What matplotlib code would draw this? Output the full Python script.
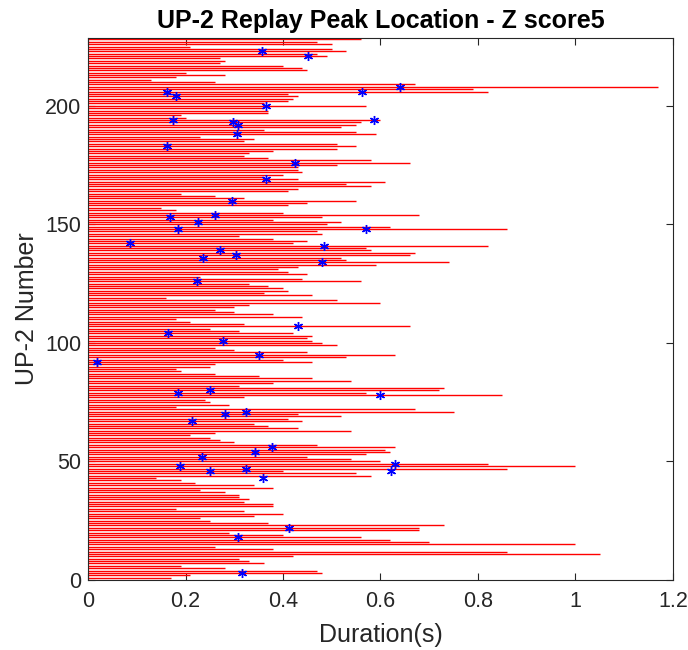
import numpy as np
import matplotlib
matplotlib.use("Agg")
import matplotlib.pyplot as plt

plt.rcParams['font.family'] = ['Liberation Sans', 'DejaVu Sans']

# event durations (s), event 1 at the bottom up to event 228 at the top
dur_1_47 = [0.17, 0.21, 0.48, 0.47, 0.28, 0.19, 0.36, 0.33, 0.31, 0.42,
            1.05, 0.86, 0.38, 0.26, 1.00, 0.70, 0.62, 0.56, 0.40, 0.29,
            0.68, 0.68, 0.73, 0.37, 0.25, 0.23, 0.34, 0.40, 0.32, 0.18,
            0.38, 0.38, 0.32, 0.33, 0.31, 0.31, 0.28, 0.23, 0.38, 0.34,
            0.22, 0.19, 0.14, 0.58, 0.55, 0.40, 0.86]
dur_48_92 = [1.00, 0.82, 0.60, 0.54, 0.45, 0.57, 0.62, 0.61, 0.63, 0.47,
             0.30, 0.27, 0.25, 0.21, 0.26, 0.54, 0.43, 0.37, 0.34, 0.44,
             0.41, 0.52, 0.43, 0.75, 0.67, 0.18, 0.29, 0.25, 0.24, 0.32,
             0.85, 0.57, 0.72, 0.73, 0.31, 0.38, 0.54, 0.46, 0.35, 0.26,
             0.19, 0.18, 0.25, 0.26, 0.46]
dur_93_137 = [0.40, 0.53, 0.63, 0.45, 0.30, 0.26, 0.51, 0.48, 0.46, 0.45,
              0.46, 0.42, 0.31, 0.25, 0.66, 0.32, 0.21, 0.18, 0.44, 0.38,
              0.30, 0.26, 0.30, 0.33, 0.60, 0.51, 0.16, 0.46, 0.36, 0.41,
              0.40, 0.37, 0.33, 0.56, 0.44, 0.23, 0.45, 0.41, 0.39, 0.43,
              0.59, 0.74, 0.53, 0.52, 0.66]
dur_138_183 = [0.67, 0.58, 0.57, 0.82, 0.42, 0.45, 0.38, 0.31, 0.48, 0.47,
               0.86, 0.62, 0.49, 0.52, 0.38, 0.48, 0.68, 0.40, 0.18, 0.15,
               0.41, 0.45, 0.55, 0.32, 0.26, 0.19, 0.41, 0.43, 0.58, 0.53,
               0.61, 0.43, 0.36, 0.40, 0.44, 0.43, 0.43, 0.51, 0.66, 0.58,
               0.37, 0.32, 0.33, 0.38, 0.51, 0.55]
dur_184_228 = [0.51, 0.32, 0.34, 0.23, 0.59, 0.55, 0.36, 0.52, 0.55, 0.56,
               0.60, 0.20, 0.19, 0.37, 0.37, 0.36, 0.57, 0.36, 0.41, 0.42,
               0.43, 0.41, 0.82, 0.79, 1.17, 0.67, 0.26, 0.13, 0.18, 0.28,
               0.20, 0.45, 0.44, 0.40, 0.27, 0.28, 0.27, 0.49, 0.47, 0.53,
               0.50, 0.21, 0.50, 0.47, 0.56]

durations = dur_1_47 + dur_48_92 + dur_93_137 + dur_138_183 + dur_184_228
event_no = np.arange(1, len(durations) + 1)

# replay peak locations (event number, time in s)
peak_event = [223, 221, 208, 206, 206, 204, 200, 194, 194, 193, 192, 188,
              183, 176, 169, 160, 154, 153, 151, 148, 148, 142, 141, 139,
              137, 136, 134, 126, 107, 104, 101, 95, 92, 79, 80, 78, 71,
              70, 67, 56, 54, 52, 48, 49, 47, 46, 46, 43, 22, 18, 3]
peak_time = [0.357, 0.451, 0.640, 0.162, 0.563, 0.181, 0.366, 0.174, 0.587,
             0.298, 0.308, 0.305, 0.163, 0.425, 0.365, 0.295, 0.260, 0.169,
             0.226, 0.185, 0.570, 0.086, 0.484, 0.270, 0.304, 0.236, 0.480,
             0.223, 0.431, 0.164, 0.276, 0.350, 0.019, 0.185, 0.251, 0.600,
             0.324, 0.281, 0.213, 0.378, 0.343, 0.233, 0.188, 0.629, 0.324,
             0.251, 0.622, 0.358, 0.412, 0.307, 0.315]

fig = plt.figure(figsize=(6.88, 6.5), dpi=100)
ax = fig.add_axes([0.128, 0.1077, 0.850, 0.8338])

ax.hlines(event_no, 0, durations, colors='r', linewidth=1.0)
ax.plot(peak_time, peak_event, linestyle='none', marker=(6, 2, 0),
        markersize=6.5, markeredgecolor='b', markeredgewidth=1.0)

ax.set_xlim(0, 1.2)
ax.set_ylim(0, 228.6)
ax.set_xticks([0, 0.2, 0.4, 0.6, 0.8, 1.0, 1.2])
ax.set_xticklabels(['0', '0.2', '0.4', '0.6', '0.8', '1', '1.2'])
ax.set_yticks([0, 50, 100, 150, 200])

axis_col = '#262626'
for s in ax.spines.values():
    s.set_color(axis_col)
    s.set_linewidth(0.8)
ax.tick_params(direction='in', top=True, right=True, length=5, width=0.8,
               colors=axis_col, labelsize=15.5)
ax.tick_params(axis='x', pad=8)
ax.tick_params(axis='y', pad=5)

ax.set_xlabel('Duration(s)', fontsize=18, color=axis_col, labelpad=8)
ax.set_ylabel('UP-2 Number', fontsize=18, color=axis_col, labelpad=4)
ax.set_title('UP-2 Replay Peak Location - Z score5', fontsize=18,
             fontweight='bold', pad=7)

fig.savefig('out.png', dpi=100)
